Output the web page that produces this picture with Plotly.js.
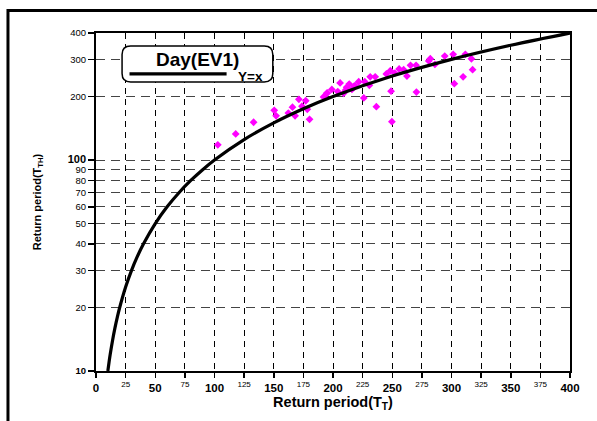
<!DOCTYPE html>
<html>
<head>
<meta charset="utf-8">
<script src="https://cdn.plot.ly/plotly-3.0.1.min.js"></script>
<style>html,body{margin:0;padding:0;background:#fff;}#chart{width:597px;height:421px;}</style>
</head>
<body>
<div id="chart"></div>
<script>
// Observed points (T_T, T_TH)
const obsX = [102.8, 117.9, 133.0, 150.4, 152.0, 162.3, 165.8, 168.0, 171.2, 173.8, 177.0, 178.3, 180.2,
  192.0, 194.7, 195.2, 199.0, 204.0, 206.0, 209.0, 210.7, 211.5, 213.7, 216.0, 217.8, 218.6, 221.7, 226.0,
  226.8, 230.7, 231.4, 235.6, 236.6, 245.0, 248.4, 249.0, 249.7, 252.2, 255.8, 259.6, 262.4, 265.4, 270.1,
  270.4, 280.8, 282.1, 286.0, 294.3, 301.4, 302.4, 309.8, 311.7, 316.8, 317.8];
const obsY = [118, 133, 151, 172, 162, 167, 178, 162, 194, 180, 191, 174, 156,
  199, 207, 208, 216, 211, 232, 207, 215, 221, 229, 216, 224, 225, 235, 197,
  235, 226, 248, 248, 179, 256, 265, 212, 152, 258, 270, 268, 250, 281, 281,
  210, 295, 302, 284, 311, 317, 230, 248, 317, 302, 268];
// Y = x reference line
const lineX = [10, 11, 12, 14, 16, 18, 20, 25, 30, 35, 40, 50, 60, 70, 80, 90, 100, 125, 150, 175, 200, 250, 300, 350, 400];
const lineY = [10, 11, 12, 14, 16, 18, 20, 25, 30, 35, 40, 50, 60, 70, 80, 90, 100, 125, 150, 175, 200, 250, 300, 350, 400];

const xTickVals = [0, 25, 50, 75, 100, 125, 150, 175, 200, 225, 250, 275, 300, 325, 350, 375, 400];
const xTickText = ['<b>0</b>', '<sup>25</sup>', '<b>50</b>', '<sup>75</sup>', '<b>100</b>', '<sup>125</sup>', '<b>150</b>',
  '<sup>175</sup>', '<b>200</b>', '<sup>225</sup>', '<b>250</b>', '<sup>275</sup>', '<b>300</b>', '<sup>325</sup>',
  '<b>350</b>', '<sup>375</sup>', '<b>400</b>'];
const yTickVals = [10, 20, 30, 40, 50, 60, 70, 80, 90, 100, 200, 300, 400];
const yTickText = ['<b>10</b>', '20', '30', '40', '50', '60', '70', '80', '90', '<b><span style="font-size:11px">100</span></b>', '200', '300', '400'];

const FONT = 'Arial, "Liberation Sans", sans-serif';

const traces = [
  {x: obsX, y: obsY, type: 'scatter', mode: 'markers',
   marker: {symbol: 'diamond', size: 6, color: '#FF00FF'}, showlegend: false, hoverinfo: 'skip'},
  {x: lineX, y: lineY, type: 'scatter', mode: 'lines', line: {color: '#000', width: 3.2, shape: 'spline'},
   showlegend: false, hoverinfo: 'skip', cliponaxis: false}
];

const layout = {
  width: 597, height: 421,
  margin: {l: 96, r: 27, t: 33, b: 50},
  paper_bgcolor: '#fff', plot_bgcolor: '#fff',
  font: {family: FONT, color: '#000'},
  showlegend: false,
  xaxis: {
    range: [0, 400], tickvals: xTickVals, ticktext: xTickText,
    tickfont: {size: 11.5, family: FONT, color: '#000'},
    ticks: 'outside', ticklen: 5, tickcolor: '#000', tickwidth: 1.5,
    showline: true, linecolor: '#000', linewidth: 2, mirror: true,
    showgrid: true, gridcolor: '#000', gridwidth: 1, griddash: '6px,5px',
    zeroline: false,
    title: {text: '<b>Return period(T<sub>T</sub>)</b>', font: {size: 14.5, family: FONT, color: '#000'}, standoff: 0}
  },
  yaxis: {
    type: 'log', range: [1, Math.log10(400)],
    tickvals: yTickVals, ticktext: yTickText,
    tickfont: {size: 9.5, family: FONT, color: '#000'},
    ticks: 'outside', ticklen: 6, tickcolor: '#000', tickwidth: 1.5,
    showline: true, linecolor: '#000', linewidth: 2, mirror: true,
    showgrid: true, gridcolor: '#444', gridwidth: 1, griddash: '9px,6px',
    zeroline: false,
    title: {text: '<b>Return period(T<sub>TH</sub>)</b>', font: {size: 11, family: FONT, color: '#000'}, standoff: 24}
  },
  shapes: [
    // outer frame
    {type: 'rect', xref: 'paper', yref: 'paper', x0: -0.1857, x1: 1.2, y0: -0.3, y1: 1.0665,
     line: {color: '#000', width: 3}, fillcolor: 'rgba(0,0,0,0)', layer: 'below'},
    // legend rounded box
    {type: 'path', xref: 'paper', yref: 'paper', layer: 'above',
     path: 'M 0.073 0.9615 L 0.355 0.9615 Q 0.373 0.9615 0.373 0.9365 L 0.373 0.880 Q 0.373 0.855 0.355 0.855 L 0.073 0.855 Q 0.055 0.855 0.055 0.880 L 0.055 0.9365 Q 0.055 0.9615 0.073 0.9615 Z',
     line: {color: '#000', width: 1.5}, fillcolor: '#fff'},
    // legend line sample
    {type: 'line', xref: 'paper', yref: 'paper', x0: 0.0707, x1: 0.2755, y0: 0.879, y1: 0.879,
     line: {color: '#000', width: 3.2}, layer: 'above'}
  ],
  annotations: [
    {xref: 'paper', yref: 'paper', x: 0.215, y: 0.921, text: '<b>Day(EV1)</b>', showarrow: false,
     font: {size: 19, family: FONT, color: '#000'}, xanchor: 'center', yanchor: 'middle'},
    {xref: 'paper', yref: 'paper', x: 0.326, y: 0.872, text: '<b>Y=x</b>', showarrow: false,
     font: {size: 13.5, family: FONT, color: '#000'}, xanchor: 'center', yanchor: 'middle'}
  ]
};

Plotly.newPlot('chart', traces, layout, {staticPlot: true, displayModeBar: false});
</script>
</body>
</html>
